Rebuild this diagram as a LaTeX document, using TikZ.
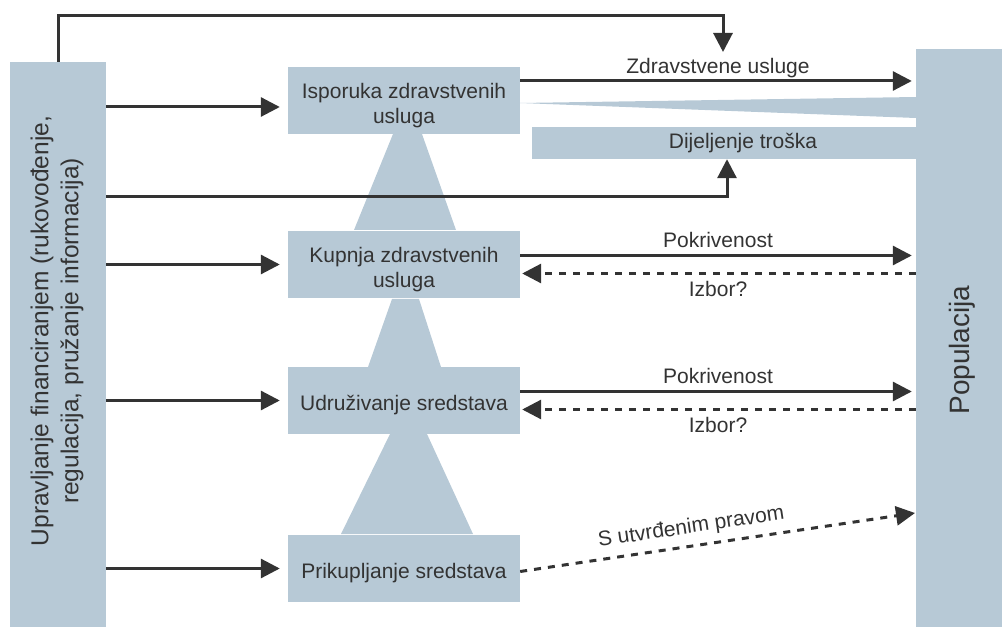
\documentclass[tikz,border=0pt]{standalone}
\usepackage{fontspec}
\setmainfont{Liberation Sans}
\usetikzlibrary{arrows.meta}

\definecolor{boxblue}{RGB}{183,201,214}
\definecolor{linegray}{RGB}{51,51,51}

\tikzset{
  bar/.style={fill=boxblue, inner sep=0pt},
  box/.style={bar, minimum width=232pt, minimum height=67pt},
  lbl/.style={text=linegray, font=\fontsize{21}{25}\selectfont, inner sep=2pt},
  boxtxt/.style={lbl, align=center, yshift=-5pt},
  arr/.style={draw=linegray, line width=3pt, -{Triangle[length=19pt,width=19pt]}},
  darr/.style={arr, dash pattern=on 7pt off 7pt}
}

\begin{document}
\begin{tikzpicture}[x=1pt, y=-1pt]
\useasboundingbox (0,0) rectangle (1002,628);

% side bars
\node[bar, minimum width=96pt, minimum height=565pt] (uprav) at (58,344.5) {};
\node[bar, minimum width=86pt, minimum height=578pt] (popul) at (959,338) {};
\node[rotate=90, align=center, text=linegray, font=\fontsize{24.5}{30}\selectfont] (upravtxt) at (57,331) {Upravljanje financiranjem (rukovođenje,\\ regulacija, pružanje informacija)};
\node[rotate=90, text=linegray, font=\fontsize{28}{33}\selectfont] (popultxt) at (962,350) {Populacija};

% pyramid between the functions
\fill[boxblue] (393,134) -- (422,134) -- (456,230) -- (354,230) -- cycle;
\fill[boxblue] (392,299) -- (419,299) -- (441,367) -- (368,367) -- cycle;
\fill[boxblue] (390,434) -- (427,434) -- (473,534) -- (341,534) -- cycle;
\fill[boxblue] (520,103) -- (916,97) -- (916,118) -- cycle;

% functions
\node[box, label={[boxtxt]center:Isporuka zdravstvenih\\ usluga}] (isporuka) at (404,101) {};
\node[box, label={[boxtxt]center:Kupnja zdravstvenih\\ usluga}] (kupnja) at (404,264.5) {};
\node[box, label={[boxtxt]center:Udruživanje sredstava}] (udruzivanje) at (404,400.5) {};
\node[box, label={[boxtxt]center:Prikupljanje sredstava}] (prikupljanje) at (404,568.5) {};
\node[bar, minimum width=384pt, minimum height=32pt, label={[lbl, xshift=19pt]center:Dijeljenje troška}] (dijeljenje) at (724,143) {};

\coordinate (toptip) at (723,52);
\coordinate (pravo) at (915,513);

% governance arrows
\draw[arr] (uprav.north) -- ++(0,-46) -| (toptip);
\draw[arr, shorten >=8pt] (uprav.east |- 0,107) -- ([yshift=-6pt]isporuka.west);
\foreach \n in {kupnja, udruzivanje, prikupljanje}
  \draw[arr, shorten >=8pt] (uprav.east |- \n.west) -- (\n.west);
\draw[arr] (uprav.east |- 0,197) -| ([xshift=3pt]dijeljenje.south);

% flows to the population
\draw[arr, shorten >=4pt] ([yshift=20pt]isporuka.east) -- ([yshift=20pt]isporuka.east -| popul.west) node[midway, above, lbl] {Zdravstvene usluge};
\foreach \n in {kupnja, udruzivanje} {
  \draw[arr, shorten >=4pt] ([yshift=9pt]\n.east) -- ([yshift=9pt]\n.east -| popul.west) node[midway, above, lbl, inner sep=6pt] {Pokrivenost};
  \draw[darr, shorten >=2pt] ([yshift=-9pt]\n.east -| popul.west) -- ([yshift=-9pt]\n.east) node[midway, below, lbl, inner sep=6pt] {Izbor?};
}
\draw[darr] ([yshift=-3pt]prikupljanje.east) -- (pravo) node[pos=0.44, above, sloped, lbl, inner sep=7pt] {S utvrđenim pravom};
\end{tikzpicture}
\end{document}
